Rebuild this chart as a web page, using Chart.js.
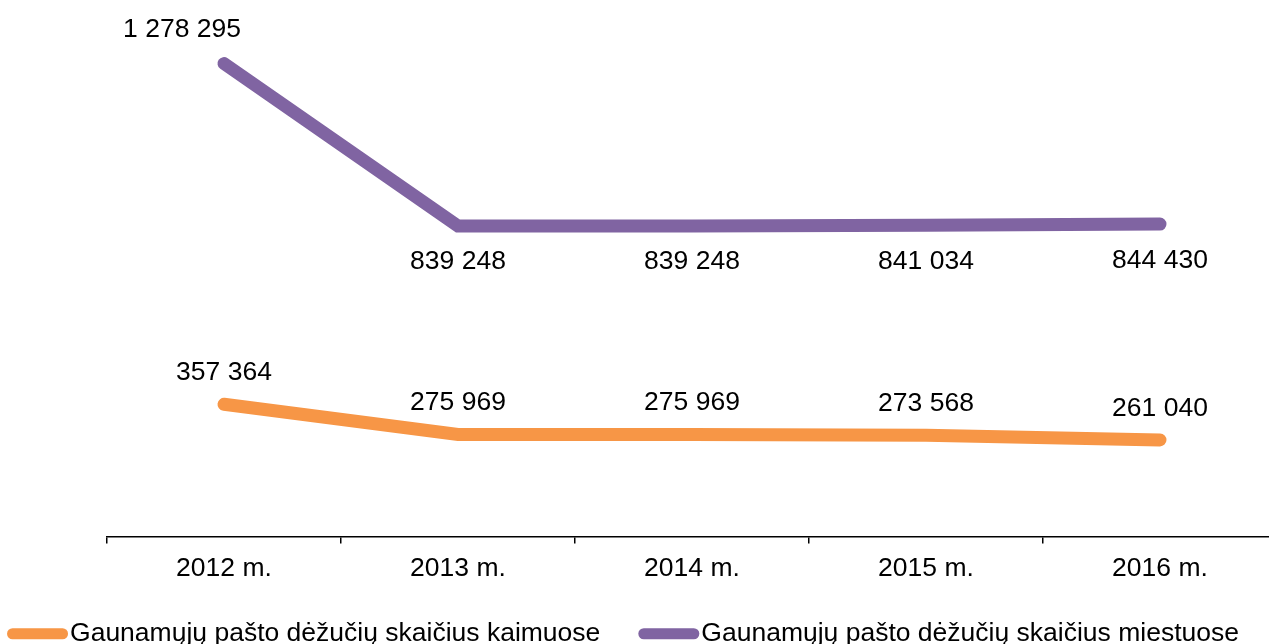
<!DOCTYPE html>
<html>
<head>
<meta charset="utf-8">
<script src="https://cdn.jsdelivr.net/npm/chart.js@4.4.1/dist/chart.umd.min.js"></script>
<style>
  html, body { margin: 0; padding: 0; background: #fff; overflow: hidden; width: 1269px; height: 644px; }
  #wrap { width: 1277px; height: 644px; position: relative; }
</style>
</head>
<body>
<div id="wrap"><canvas id="c"></canvas></div>
<script>
const categories = ['2012 m.', '2013 m.', '2014 m.', '2015 m.', '2016 m.'];
const seriesNames = ['Gaunamųjų pašto dėžučių skaičius kaimuose', 'Gaunamųjų pašto dėžučių skaičius miestuose'];
const ruralValues = [357364, 275969, 275969, 273568, 261040];
const urbanValues = [1278295, 839248, 839248, 841034, 844430];

const ORANGE = '#F79646';
const PURPLE = '#8064A2';
const FONT = "'Liberation Sans', Arial, sans-serif";
const FS = 26.5;

Chart.defaults.font.family = FONT;
Chart.defaults.font.size = FS;
Chart.defaults.color = '#000';

function fmt(n) { return String(n).replace(/\B(?=(\d{3})+(?!\d))/g, ' '); }

// label placement (pixel offsets of text centre from the point)
const labelOffsets = [
  [[0, -32.5], [0, -33], [0, -33], [0, -33], [0, -32.3]],
  [[-42, -35.5], [0, 35], [0, 35], [0, 35], [0, 35]]
];

const dataLabels = {
  id: 'dataLabels',
  afterDatasetsDraw(chart) {
    const ctx = chart.ctx;
    ctx.save();
    ctx.font = FS + 'px ' + FONT;
    ctx.fillStyle = '#000';
    ctx.textAlign = 'center';
    ctx.textBaseline = 'middle';
    chart.data.datasets.forEach((ds, di) => {
      const meta = chart.getDatasetMeta(di);
      meta.data.forEach((pt, i) => {
        const off = labelOffsets[di][i];
        ctx.fillText(fmt(ds.data[i]), pt.x + off[0], pt.y + off[1] + 1.2);
      });
    });
    ctx.restore();
  }
};

const legendPills = {
  id: 'legendPills',
  afterDraw(chart) {
    const lg = chart.legend;
    if (!lg || !lg.legendHitBoxes) return;
    const ctx = chart.ctx;
    ctx.save();
    lg.legendHitBoxes.forEach((hb, i) => {
      const color = chart.data.datasets[i].borderColor;
      const h = 11, w = 61;
      const y = hb.top + (hb.height - h) / 2;
      ctx.fillStyle = color;
      ctx.beginPath();
      ctx.roundRect(hb.left, y, w, h, h / 2);
      ctx.fill();
    });
    ctx.restore();
  }
};

new Chart(document.getElementById('c'), {
  type: 'line',
  data: {
    labels: categories,
    datasets: [
      { label: seriesNames[0], data: ruralValues, borderColor: ORANGE, backgroundColor: ORANGE,
        borderWidth: 13, borderCapStyle: 'round', borderJoinStyle: 'miter', pointRadius: 0, tension: 0 },
      { label: seriesNames[1], data: urbanValues, borderColor: PURPLE, backgroundColor: PURPLE,
        borderWidth: 13, borderCapStyle: 'round', borderJoinStyle: 'miter', pointRadius: 0, tension: 0 }
    ]
  },
  options: {
    responsive: true,
    maintainAspectRatio: false,
    animation: false,
    layout: { padding: { left: -31, right: 0, top: 18.5, bottom: 0 } },
    scales: {
      x: {
        type: 'category',
        offset: true,
        grid: { offset: true, drawOnChartArea: false, drawTicks: true, tickLength: 7, color: '#000', lineWidth: 1.5 },
        border: { display: true, color: '#000', width: 1.5 },
        ticks: { color: '#000', font: { size: FS }, padding: 8.8, maxRotation: 0, autoSkip: false },
        afterFit(scale) { scale.height = 46; }
      },
      y: {
        min: 0, max: 1400000,
        display: true,
        grid: { display: false, drawTicks: false },
        border: { display: false },
        ticks: { display: false },
        afterFit(scale) { scale.width = 138; }
      }
    },
    plugins: {
      tooltip: { enabled: false },
      legend: {
        display: true,
        position: 'bottom',
        align: 'center',
        maxHeight: 61.5,
        labels: {
          boxWidth: 49.75,
          boxHeight: 11,
          padding: 38,
          color: '#000',
          font: { size: FS },
          generateLabels(chart) {
            return chart.data.datasets.map((ds, i) => ({
              text: ds.label,
              fillStyle: 'rgba(0,0,0,0)',
              strokeStyle: 'rgba(0,0,0,0)',
              lineWidth: 0,
              fontColor: '#000',
              datasetIndex: i,
              hidden: false
            }));
          }
        }
      }
    }
  },
  plugins: [dataLabels, legendPills]
});
</script>
</body>
</html>
